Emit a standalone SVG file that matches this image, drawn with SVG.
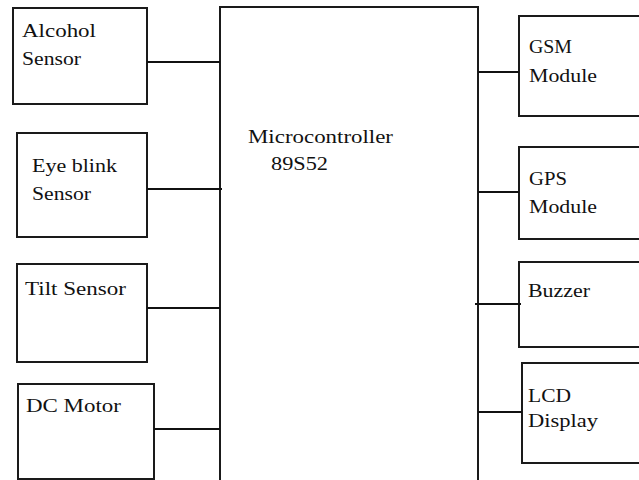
<svg xmlns="http://www.w3.org/2000/svg" width="639" height="480" viewBox="0 0 639 480">
<style>
.box{fill:#fff;stroke:#1a1a1a;stroke-width:2}
.lbl{font-family:"Liberation Serif","Times New Roman",serif;font-size:18px;fill:#111}
.wire{stroke:#111;stroke-width:2;fill:none}
</style>
<rect width="639" height="480" fill="#fff"/>
<g id="microcontroller">
<rect class="box" x="220" y="7" width="258" height="480"/>
<text class="lbl" x="248" y="143" textLength="145" lengthAdjust="spacingAndGlyphs">Microcontroller</text>
<text class="lbl" x="271" y="170" textLength="57" lengthAdjust="spacingAndGlyphs">89S52</text>
</g>
<g id="alcohol-sensor">
<rect class="box" x="13" y="8" width="134" height="96"/>
<text class="lbl" x="22" y="37" textLength="74" lengthAdjust="spacingAndGlyphs">Alcohol</text>
<text class="lbl" x="22" y="65" textLength="59" lengthAdjust="spacingAndGlyphs">Sensor</text>
</g>
<g id="eye-blink-sensor">
<rect class="box" x="17" y="133" width="130" height="104"/>
<text class="lbl" x="32" y="172" textLength="85" lengthAdjust="spacingAndGlyphs">Eye blink</text>
<text class="lbl" x="32" y="200" textLength="59" lengthAdjust="spacingAndGlyphs">Sensor</text>
</g>
<g id="tilt-sensor">
<rect class="box" x="17" y="264" width="130" height="98"/>
<text class="lbl" x="25" y="295" textLength="101" lengthAdjust="spacingAndGlyphs">Tilt Sensor</text>
</g>
<g id="dc-motor">
<rect class="box" x="18" y="384" width="136" height="95"/>
<text class="lbl" x="26" y="412" textLength="95" lengthAdjust="spacingAndGlyphs">DC Motor</text>
</g>
<g id="gsm-module">
<rect class="box" x="519" y="16" width="130" height="100"/>
<text class="lbl" x="529" y="53" textLength="43" lengthAdjust="spacingAndGlyphs">GSM</text>
<text class="lbl" x="529" y="82" textLength="68" lengthAdjust="spacingAndGlyphs">Module</text>
</g>
<g id="gps-module">
<rect class="box" x="519" y="147" width="130" height="92"/>
<text class="lbl" x="529" y="185" textLength="38" lengthAdjust="spacingAndGlyphs">GPS</text>
<text class="lbl" x="529" y="213" textLength="68" lengthAdjust="spacingAndGlyphs">Module</text>
</g>
<g id="buzzer">
<rect class="box" x="519" y="262" width="130" height="85"/>
<text class="lbl" x="528" y="297" textLength="62" lengthAdjust="spacingAndGlyphs">Buzzer</text>
</g>
<g id="lcd-display">
<rect class="box" x="522" y="363" width="130" height="100"/>
<text class="lbl" x="528" y="402" textLength="43" lengthAdjust="spacingAndGlyphs">LCD</text>
<text class="lbl" x="528" y="427" textLength="70" lengthAdjust="spacingAndGlyphs">Display</text>
</g>
<g id="connectors">
<line class="wire" x1="147" y1="62" x2="220" y2="62"/>
<line class="wire" x1="147" y1="189" x2="222" y2="189"/>
<line class="wire" x1="147" y1="308" x2="220" y2="308"/>
<line class="wire" x1="154" y1="429" x2="220" y2="429"/>
<line class="wire" x1="478" y1="72" x2="519" y2="72"/>
<line class="wire" x1="478" y1="192" x2="519" y2="192"/>
<line class="wire" x1="475" y1="304" x2="521" y2="304"/>
<line class="wire" x1="478" y1="412" x2="522" y2="412"/>
</g>
</svg>
